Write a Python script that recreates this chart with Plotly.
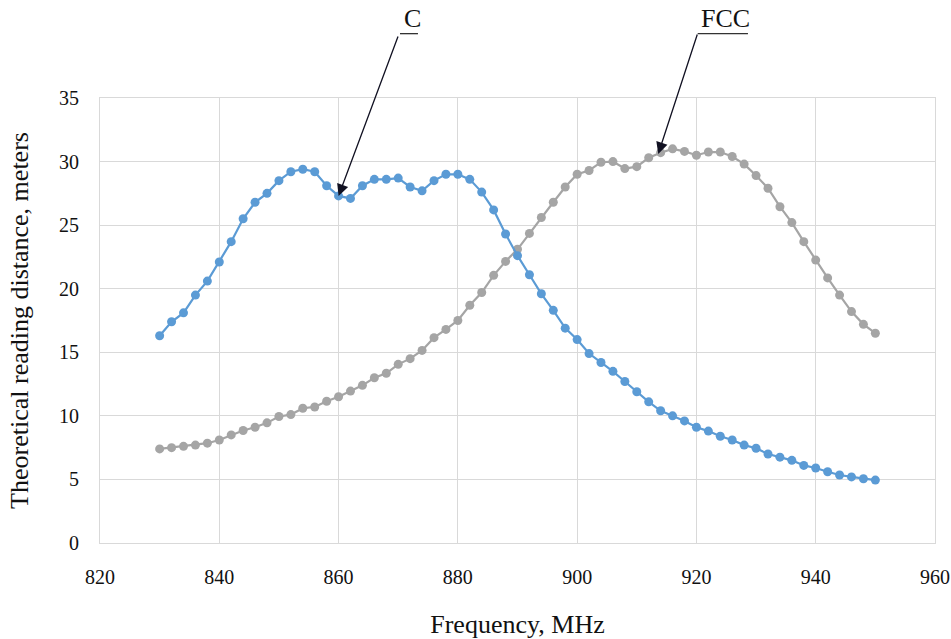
import plotly.graph_objects as go

freq = list(range(830, 952, 2))

c_values = [16.3, 17.4, 18.1, 19.5, 20.6, 22.1, 23.7, 25.5, 26.8, 27.5,
            28.5, 29.2, 29.4, 29.2, 28.1, 27.3, 27.1, 28.1, 28.6, 28.6,
            28.7, 28.0, 27.7, 28.5, 29.0, 29.0, 28.6, 27.6, 26.2, 24.3,
            22.6, 21.1, 19.6, 18.3, 16.9, 16.0, 14.9, 14.2, 13.5, 12.7,
            11.9, 11.1, 10.4, 10.0, 9.6, 9.1, 8.8, 8.4, 8.1, 7.7,
            7.45, 7.0, 6.75, 6.5, 6.1, 5.9, 5.6, 5.35, 5.2, 5.05,
            4.95]

fcc_values = [7.4, 7.5, 7.6, 7.7, 7.85, 8.1, 8.5, 8.85, 9.1, 9.45,
              9.95, 10.1, 10.6, 10.7, 11.15, 11.5, 11.95, 12.4, 13.0, 13.35,
              14.05, 14.5, 15.15, 16.15, 16.8, 17.5, 18.7, 19.7, 21.05, 22.15,
              23.1, 24.35, 25.6, 26.8, 28.0, 29.0, 29.3, 29.95, 30.0, 29.45,
              29.6, 30.3, 30.7, 31.0, 30.8, 30.5, 30.75, 30.75, 30.4, 29.8,
              28.9, 27.9, 26.45, 25.2, 23.7, 22.25, 20.85, 19.5, 18.2, 17.2,
              16.5]

x_ticks = [820, 840, 860, 880, 900, 920, 940, 960]
y_ticks = [0, 5, 10, 15, 20, 25, 30, 35]

BLUE = "#5B9BD5"
GRAY = "#A5A5A5"
FONT = "Liberation Serif"

fig = go.Figure()
fig.add_trace(go.Scatter(x=freq, y=fcc_values, mode="lines+markers", name="FCC",
                         line=dict(color=GRAY, width=2.2),
                         marker=dict(color=GRAY, size=9)))
fig.add_trace(go.Scatter(x=freq, y=c_values, mode="lines+markers", name="C",
                         line=dict(color=BLUE, width=2.2),
                         marker=dict(color=BLUE, size=9)))

# arrows
fig.add_annotation(x=860, y=c_values[freq.index(860)], xref="x", yref="y",
                   text="", showarrow=True, ax=60, ay=-161,
                   arrowhead=2, arrowsize=1.8, arrowwidth=1.3, arrowcolor="#111122")
fig.add_annotation(x=913.6, y=30.6, xref="x", yref="y",
                   text="", showarrow=True, ax=39.5, ay=-121,
                   arrowhead=2, arrowsize=1.8, arrowwidth=1.3, arrowcolor="#111122")

# labels
fig.add_annotation(x=0.3737, y=1.1783, xref="paper", yref="paper", text="C",
                   showarrow=False, xanchor="center", yanchor="middle",
                   font=dict(family=FONT, size=26, color="#111111"))
fig.add_annotation(x=0.7497, y=1.1783, xref="paper", yref="paper", text="FCC",
                   showarrow=False, xanchor="center", yanchor="middle",
                   font=dict(family=FONT, size=26, color="#111111"))

fig.add_shape(type="line", xref="paper", yref="paper", x0=0.3593, x1=0.3808,
              y0=1.1446, y1=1.1446, line=dict(color="#333333", width=1.3))
fig.add_shape(type="line", xref="paper", yref="paper", x0=0.7158, x1=0.776,
              y0=1.1446, y1=1.1446, line=dict(color="#333333", width=1.3))

fig.update_layout(
    width=951, height=639,
    margin=dict(l=100, r=16, t=98, b=96, autoexpand=False),
    paper_bgcolor="white", plot_bgcolor="white",
    showlegend=False,
    font=dict(family=FONT, color="#111111", size=20),
    xaxis=dict(range=[820, 960], tickvals=x_ticks, showgrid=True, automargin=False,
               gridcolor="#d9d9d9", gridwidth=1, zeroline=False,
               showline=True, linecolor="#d9d9d9", mirror=True,
               tickfont=dict(family=FONT, size=20, color="#111111"),
               ticks="", ticklabelstandoff=16,
               title=dict(text="Frequency, MHz", font=dict(family=FONT, size=26),
                          standoff=27)),
    yaxis=dict(range=[0, 35], tickvals=y_ticks, showgrid=True, automargin=False,
               gridcolor="#d9d9d9", gridwidth=1, zeroline=False,
               showline=True, linecolor="#d9d9d9", mirror=True,
               tickfont=dict(family=FONT, size=20, color="#111111"),
               ticks="", ticklabelstandoff=16,
               title=dict(text="Theoretical reading distance, meters",
                          font=dict(family=FONT, size=26), standoff=22)),
)

fig.write_html(
    "out.html",
    config={"displayModeBar": False},
    post_script="document.body.style.margin='0';document.body.style.overflow='hidden';",
)
